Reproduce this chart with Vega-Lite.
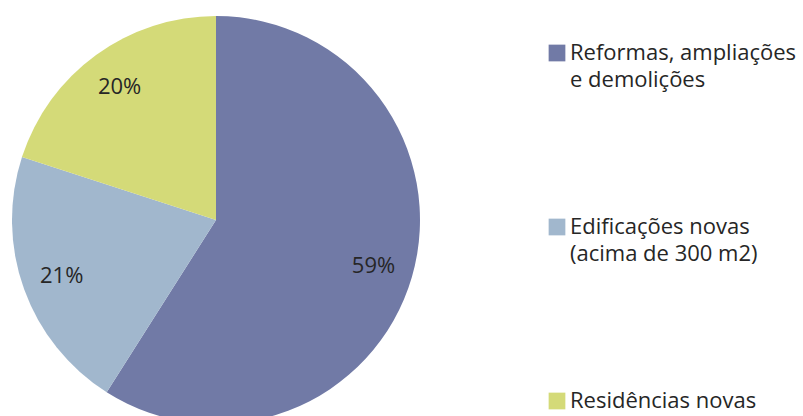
{
  "$schema": "https://vega.github.io/schema/vega-lite/v6.json",
  "width": 432,
  "height": 440,
  "autosize": "none",
  "padding": {"left": 0, "top": 0, "right": 371, "bottom": 0},
  "background": "white",
  "config": {
    "view": {"stroke": null},
    "font": "Open Sans",
    "style": {"guide-label": {"lineHeight": 27}}
  },
  "data": {
    "values": [
      {"categoria": "Reformas, ampliações|e demolições", "percentual": 59, "rotulo": "59%", "ordem": 1},
      {"categoria": "Edificações novas|(acima de 300 m2)", "percentual": 21, "rotulo": "21%", "ordem": 2},
      {"categoria": "Residências novas", "percentual": 20, "rotulo": "20%", "ordem": 3}
    ]
  },
  "encoding": {
    "theta": {"field": "percentual", "type": "quantitative", "stack": true},
    "order": {"field": "ordem", "type": "quantitative"}
  },
  "layer": [
    {
      "mark": {"type": "arc", "outerRadius": 204},
      "encoding": {
        "color": {
          "field": "categoria",
          "type": "nominal",
          "sort": null,
          "scale": {
            "domain": ["Reformas, ampliações|e demolições", "Edificações novas|(acima de 300 m2)", "Residências novas"],
            "range": ["#717aa6", "#a1b7cd", "#d4da78"]
          },
          "legend": {
            "orient": "none",
            "legendX": 546,
            "legendY": 42,
            "title": null,
            "symbolType": "square",
            "symbolSize": 280,
            "symbolStrokeWidth": 0,
            "symbolOpacity": 1,
            "labelExpr": "split(datum.label, '|')",
            "labelFont": "Open Sans",
            "labelFontSize": 22,
            "labelColor": "#262626",
            "labelLimit": 400,
            "labelOffset": 2,
            "rowPadding": 125
          }
        }
      }
    },
    {
      "mark": {"type": "text", "radius": 164, "fontSize": 22, "font": "Open Sans", "color": "#262626"},
      "encoding": {
        "detail": {"field": "categoria", "type": "nominal"},
        "text": {"field": "rotulo", "type": "nominal"}
      }
    }
  ]
}
